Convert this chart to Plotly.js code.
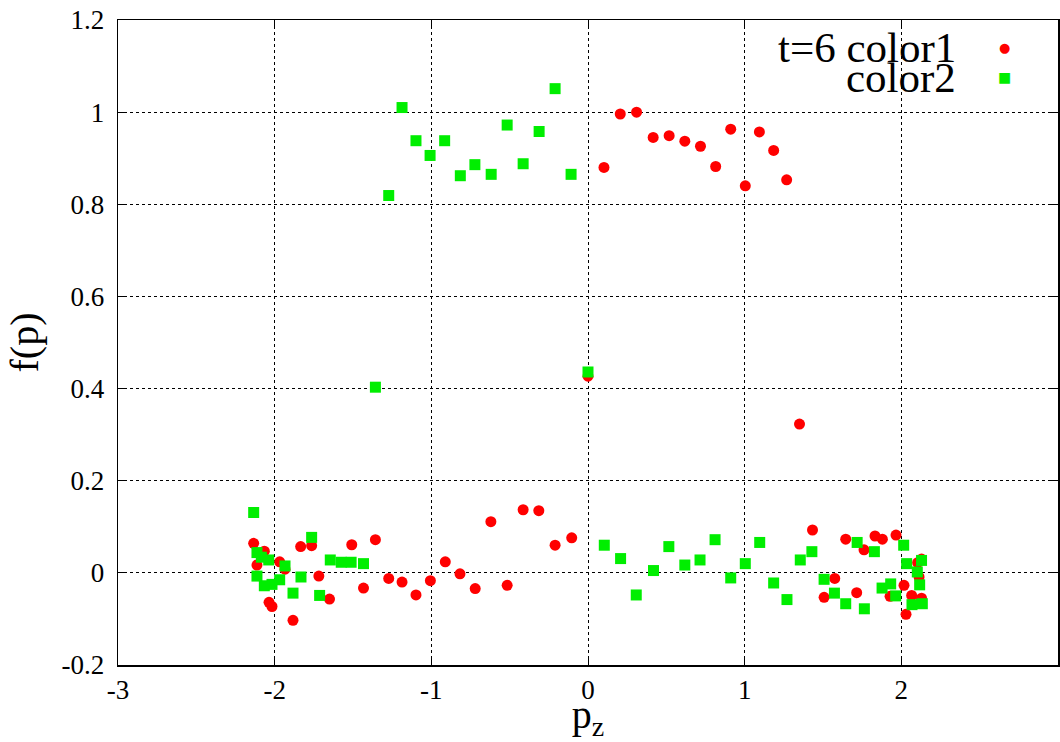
<!DOCTYPE html>
<html>
<head>
<meta charset="utf-8">
<script src="https://cdn.plot.ly/plotly-3.0.1.min.js"></script>
<style>
html,body{margin:0;padding:0;background:#fff;}
#chart{width:1060px;height:742px;}
#chart .xtick text, #chart .ytick text { font-family: "Liberation Serif", serif !important; font-size: 27px !important; fill: #000 !important; }
#chart .xtitle, #chart .ytitle { font-family: "Liberation Serif", serif !important; font-size: 40px !important; fill: #000 !important; }
</style>
</head>
<body>
<div id="chart"></div>
<script>
// color1 (red circles)
const color1X = [-2.134,-2.113,-2.066,-2.036,-2.017,-1.968,-1.934,-1.883,-1.834,-1.764,-1.718,-1.650,-1.508,-1.433,-1.357,-1.272,-1.187,-1.098,-1.006,-0.911,-0.817,-0.720,-0.620,-0.516,-0.414,-0.314,-0.210,-0.104,0.000,0.102,0.206,0.310,0.416,0.518,0.618,0.718,0.815,0.911,1.004,1.094,1.185,1.268,1.350,1.433,1.507,1.575,1.645,1.715,1.762,1.832,1.879,1.928,1.966,2.017,2.030,2.066,2.104,2.113,2.129,2.129];
const color1Y = [0.064,0.017,0.047,-0.064,-0.073,0.024,0.008,-0.103,0.057,0.059,-0.007,-0.057,0.061,-0.033,0.072,-0.012,-0.020,-0.048,-0.017,0.024,-0.002,-0.034,0.111,-0.027,0.137,0.135,0.060,0.076,0.427,0.880,0.996,1.000,0.945,0.949,0.937,0.926,0.882,0.963,0.840,0.957,0.917,0.853,0.323,0.093,-0.053,-0.012,0.073,-0.043,0.050,0.080,0.073,-0.051,0.082,-0.027,-0.090,-0.049,0.022,-0.009,-0.055,0.030];
// color2 (green squares)
const color2X = [-2.134,-2.113,-2.113,-2.085,-2.066,-2.038,-2.017,-1.968,-1.934,-1.883,-1.832,-1.764,-1.713,-1.645,-1.575,-1.512,-1.433,-1.357,-1.272,-1.187,-1.098,-1.008,-0.915,-0.815,-0.722,-0.618,-0.516,-0.414,-0.312,-0.210,-0.108,0.000,0.104,0.208,0.308,0.418,0.516,0.618,0.715,0.811,0.911,1.004,1.096,1.185,1.270,1.355,1.429,1.507,1.573,1.645,1.718,1.764,1.828,1.877,1.932,1.964,2.015,2.034,2.068,2.102,2.117,2.129,2.134];
const color2Y = [0.131,0.044,-0.007,0.034,-0.028,0.028,-0.025,-0.015,0.015,-0.044,-0.009,0.077,-0.049,0.028,0.023,0.023,0.020,0.403,0.819,1.010,0.938,0.906,0.938,0.862,0.886,0.865,0.972,0.888,0.958,1.051,0.865,0.436,0.060,0.031,-0.048,0.005,0.057,0.017,0.028,0.072,-0.011,0.020,0.066,-0.022,-0.058,0.028,0.046,-0.014,-0.044,-0.067,0.066,-0.078,0.046,-0.033,-0.024,-0.050,0.060,0.020,-0.069,0.002,-0.026,0.027,-0.067];
const seriesNames = ["t=6 color1", "color2"];
const xTicks = [-3,-2,-1,0,1,2,3];
const yTicks = [-0.2,0,0.2,0.4,0.6,0.8,1,1.2];

const serif = "Liberation Serif";
const traces = [
  {x: color1X, y: color1Y, mode: "markers", type: "scatter", name: seriesNames[0],
   marker: {symbol: "circle", size: 11, color: "#ff0000"}},
  {x: color2X, y: color2Y, mode: "markers", type: "scatter", name: seriesNames[1],
   marker: {symbol: "square", size: 11, color: "#00ee00"}}
];
const tickFont = {family: serif, size: 27, color: "#000"};
const titleFont = {family: serif, size: 40, color: "#000"};
const legendAnnotations = [
  {xref: "paper", yref: "paper", x: 0.8936, y: 0.958, xanchor: "right", yanchor: "middle",
   text: seriesNames[0], showarrow: false, font: {family: serif, size: 43, color: "#000"}},
  {xref: "paper", yref: "paper", x: 0.8936, y: 0.9116, xanchor: "right", yanchor: "middle",
   text: seriesNames[1], showarrow: false, font: {family: serif, size: 43, color: "#000"}},
  {xref: "paper", yref: "paper", x: 0.9426, y: 0.958, xanchor: "center", yanchor: "middle",
   text: "●", showarrow: false, font: {family: "DejaVu Sans", size: 13, color: "#ff0000"}},
  {xref: "paper", yref: "paper", x: 0.9426, y: 0.9116, xanchor: "center", yanchor: "middle",
   text: "■", showarrow: false, font: {family: "DejaVu Sans", size: 14, color: "#00ee00"}}
];
const layout = {
  width: 1060, height: 742,
  margin: {l: 118, r: 2, t: 20, b: 77},
  paper_bgcolor: "#fff", plot_bgcolor: "#fff",
  font: {family: serif, size: 27, color: "#000"},
  showlegend: false,
  xaxis: {
    range: [-3, 3], tickmode: "array", tickvals: xTicks, ticktext: xTicks.map(String),
    showline: true, mirror: "ticks", linecolor: "#000", linewidth: 1.5,
    showgrid: true, gridcolor: "#000", griddash: "dot", gridwidth: 1,
    zeroline: false, ticks: "inside", ticklen: 8, tickcolor: "#000",
    tickfont: tickFont,
    title: {text: "p<sub>z</sub>", font: titleFont, standoff: 10}
  },
  yaxis: {
    range: [-0.2, 1.2], tickmode: "array", tickvals: yTicks,
    ticktext: yTicks.map(function (v) { return String(v) + "\u00a0"; }),
    showline: true, mirror: "ticks", linecolor: "#000", linewidth: 1.5,
    showgrid: true, gridcolor: "#000", griddash: "dot", gridwidth: 1,
    zeroline: false, ticks: "inside", ticklen: 8, tickcolor: "#000",
    tickfont: tickFont,
    title: {text: "f(p)", font: titleFont, standoff: 10}
  },
  annotations: legendAnnotations
};
Plotly.newPlot("chart", traces, layout, {displayModeBar: false, staticPlot: true});
</script>
</body>
</html>
